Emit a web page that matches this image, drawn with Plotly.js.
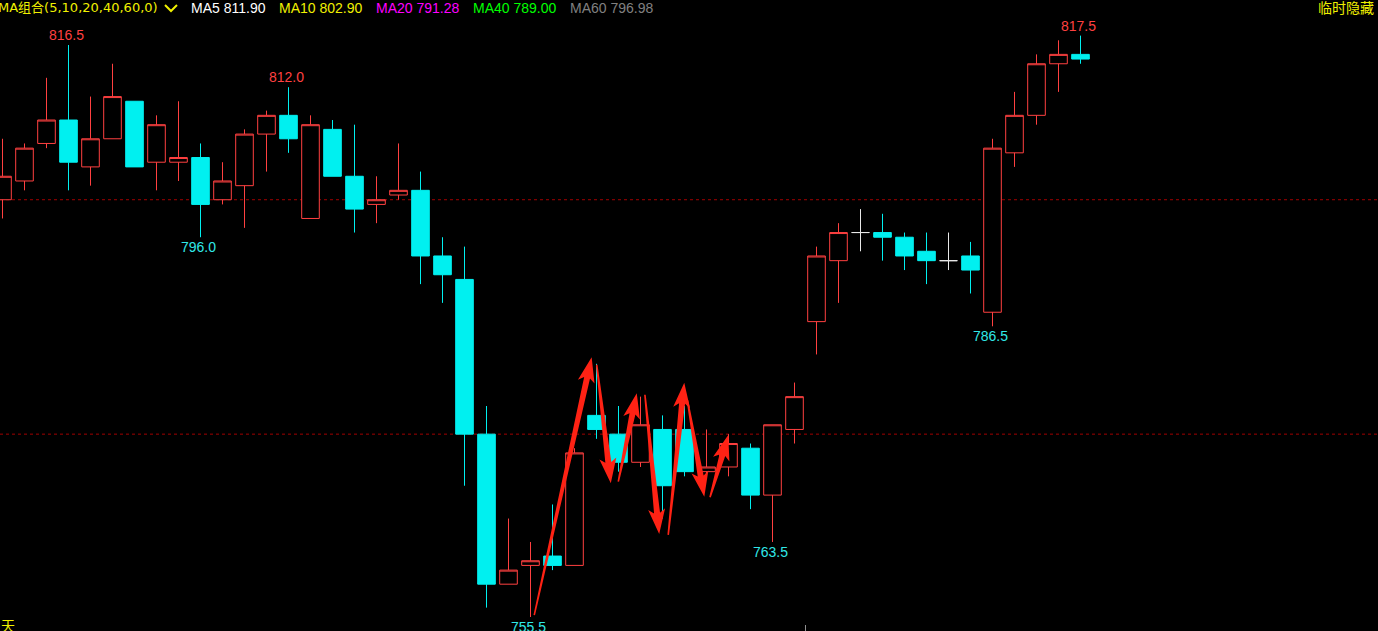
<!DOCTYPE html>
<html><head><meta charset="utf-8">
<script src="https://cdn.plot.ly/plotly-3.0.1.min.js"></script>
<style>html,body{margin:0;padding:0;background:#000;overflow:hidden}#chart{width:1378px;height:631px}</style>
</head><body><div id="chart"></div>
<script>
// ---- data (candle index 0..49) ----
const openP  = [800,802,806,808.5,803.5,806.5,810.5,804,804,804.5,800,801.5,807,809,798,807.5,802.5,799.5,800.5,801,794,791.5,775,759,761,762,761,777,775,772,775.5,775.5,771,771.5,773.5,768.5,775.5,787,793.5,796.5,796.5,796,794.5,793.5,794,788,805,809,814.5,815.5];
const highP  = [806.5,806,813,816.5,811,814.5,810.5,809,810.5,806,804,807.5,809.5,812,809,808.5,808,802.5,806,803,796,795,778,766,763.5,767.5,773.5,782.5,778,779,777,778,775.5,775,774,776,780.5,795,797.5,799,798.5,796.5,796.5,796.5,795.5,806.5,811.5,815.5,817,817.5];
const lowP   = [798,801,805.5,801,801.5,806.5,803.5,801,802,796,799.5,797,803,805,798,802.5,796.5,797.5,800,791,789,769.5,756.5,759,755.5,760.5,761,774.5,771,771.5,766,770.5,770.5,770.5,767,763.5,774,783.5,789,794.5,793.5,792.5,791,792.5,790,786.5,803.5,808,811.5,814.5];
const closeP = [802.5,805.5,808.5,804,806.5,811,803.5,808,804.5,799.5,802,807,809,806.5,808,802.5,799,800,801,794,792,775,759,760.5,761.5,761,773,775.5,772,776,769.5,771,771.5,774,768.5,776,779,794,796.5,796.5,796,794,793.5,793.5,792.5,805.5,809,814.5,815.5,815];

const highLabelIdx = [3, 13, 49];
const lowLabelIdx  = [9, 24, 35, 45];
const levels = [800, 775];
const separators = [36.5];

const maTitle = 'MA组合(5,10,20,40,60,0)';
const maNames  = ['MA5', 'MA10', 'MA20', 'MA40', 'MA60'];
const maValues = [811.90, 802.90, 791.28, 789.00, 796.98];
const rightLabel = '临时隐藏';
const periodLabel = '天';

// hand-drawn arrows: [candle index, price] tail -> tip
const arrowTails = [[24.17,755.7],[27.01,782.4],[27.99,769.93],[29.2,779.2],[30.26,764.25],[31.13,778.64],[32.16,768.27]];
const arrowTips  = [[26.78,783.2],[27.65,769.76],[28.83,779.36],[29.85,764.35],[30.99,780.49],[31.9,768.33],[32.99,774.9]];

// ---- style / layout constants ----
const W = 1378, H = 631;
const SX = 22, SY = 9.377;             // px per candle, px per price point
const X0 = -2.5 / SX, X1 = X0 + W / SX;
const YTOP = 816.5 + 45 / SY, YBOT = YTOP - H / SY;
const RED = '#ff4040', CYAN = '#00f0f0', WHITE = '#e8e8e8', YEL = '#f0f000';
const maColors = ['#ffffff', YEL, '#ff00ff', '#00ff00', '#808080'];
const maX = [191, 279, 376, 473, 570];

function subset(cond) {
  const idx = [];
  for (let i = 0; i < openP.length; i++) if (cond(i)) idx.push(i);
  return {x: idx, open: idx.map(i => openP[i]), high: idx.map(i => highP[i]),
          low: idx.map(i => lowP[i]), close: idx.map(i => closeP[i])};
}
function candle(d, lineCol, fill) {
  return Object.assign({type: 'candlestick', hoverinfo: 'skip', whiskerwidth: 0, showlegend: false,
    increasing: {line: {color: lineCol, width: 1}, fillcolor: fill},
    decreasing: {line: {color: lineCol, width: 1}, fillcolor: fill}}, d);
}
const traces = [
  candle(subset(i => closeP[i] > openP[i]), RED, '#000000'),
  candle(subset(i => closeP[i] < openP[i]), CYAN, CYAN),
  candle(subset(i => closeP[i] === openP[i]), WHITE, WHITE)
];

function arrowPath(t, p) {
  const T = [t[0] * SX, -t[1] * SY], P = [p[0] * SX, -p[1] * SY];
  const dx = P[0] - T[0], dy = P[1] - T[1], L = Math.hypot(dx, dy);
  const d = [dx / L, dy / L], n = [-d[1], d[0]];
  const headLen = 21, headW = 8.5, shaftW = 3, tailW = 0.8, notch = 4;
  const B = [P[0] - d[0] * headLen, P[1] - d[1] * headLen];
  const off = (q, k, m) => [q[0] + n[0] * k - d[0] * m, q[1] + n[1] * k - d[1] * m];
  const pts = [off(T, tailW, 0), off(B, shaftW, 0), off(B, headW, notch), P,
               off(B, -headW, notch), off(B, -shaftW, 0), off(T, -tailW, 0)];
  return 'M' + pts.map(q => (q[0] / SX) + ',' + (-q[1] / SY)).join('L') + 'Z';
}

const shapes = [];
levels.forEach(v => shapes.push({type: 'line', xref: 'paper', yref: 'y', x0: 0, x1: 1, y0: v, y1: v,
  line: {color: '#a00000', width: 1, dash: '3px,3px'}, layer: 'below'}));
separators.forEach(s => shapes.push({type: 'line', xref: 'x', yref: 'paper', x0: s, x1: s, y0: 0, y1: 6 / H,
  line: {color: '#909090', width: 1}}));
arrowTails.forEach((t, k) => shapes.push({type: 'path', xref: 'x', yref: 'y', path: arrowPath(t, arrowTips[k]),
  fillcolor: '#ff2214', line: {width: 0}, layer: 'above'}));
// chevron after MA title
shapes.push({type: 'path', xref: 'paper', yref: 'paper',
  path: `M${165/W},${1-5/H}L${171/W},${1-11/H}L${177/W},${1-5/H}`, line: {color: YEL, width: 2}});

const annotations = [];
const fontS = (c, f, s) => ({color: c, size: s || 14, family: f || 'Liberation Sans, Arial, sans-serif'});
highLabelIdx.forEach(i => annotations.push({x: i, y: highP[i], xref: 'x', yref: 'y', text: highP[i].toFixed(1),
  showarrow: false, yanchor: 'bottom', xshift: -2, font: fontS(RED)}));
lowLabelIdx.forEach(i => annotations.push({x: i, y: lowP[i], xref: 'x', yref: 'y', text: lowP[i].toFixed(1),
  showarrow: false, yanchor: 'top', xshift: -2, font: fontS('#30e8e8')}));
const topY = 1 - 8 / H;
annotations.push({xref: 'paper', yref: 'paper', x: -4 / W, y: topY, xanchor: 'left', yanchor: 'middle',
  text: maTitle, showarrow: false, font: fontS(YEL, 'DejaVu Sans, Noto Sans CJK SC, sans-serif', 13)});
maNames.forEach((nm, k) => annotations.push({xref: 'paper', yref: 'paper', x: (maX[k] - 2) / W, y: topY,
  xanchor: 'left', yanchor: 'middle', text: nm + ' ' + maValues[k].toFixed(2), showarrow: false, font: fontS(maColors[k])}));
annotations.push({xref: 'paper', yref: 'paper', x: 1376 / W, y: 1 - 7 / H, xanchor: 'right', yanchor: 'middle',
  text: rightLabel, showarrow: false, font: fontS(YEL, 'Noto Sans CJK SC, sans-serif')});
annotations.push({xref: 'paper', yref: 'paper', x: -1 / W, y: 1 - 625 / H, xanchor: 'left', yanchor: 'middle',
  text: periodLabel, showarrow: false, font: fontS(YEL, 'Noto Sans CJK SC, sans-serif')});

const layout = {
  width: W, height: H, margin: {l: 0, r: 0, t: 0, b: 0, pad: 0},
  paper_bgcolor: '#000000', plot_bgcolor: '#000000',
  showlegend: false, boxmode: 'overlay', boxgap: 0.2, boxgroupgap: 0, hovermode: false,
  xaxis: {range: [X0, X1], visible: false, showgrid: false, zeroline: false, rangeslider: {visible: false}, fixedrange: true},
  yaxis: {range: [YBOT, YTOP], visible: false, showgrid: false, zeroline: false, fixedrange: true},
  shapes: shapes, annotations: annotations
};
Plotly.newPlot('chart', traces, layout, {displayModeBar: false, staticPlot: true});
</script></body></html>
